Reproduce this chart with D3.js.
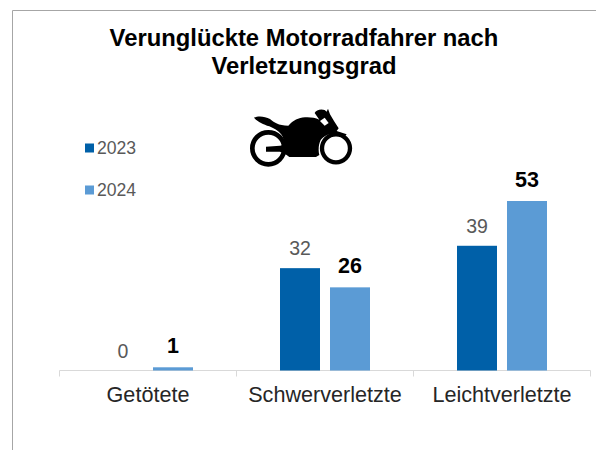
<!DOCTYPE html>
<html><head><meta charset="utf-8">
<script src="https://cdn.jsdelivr.net/npm/d3@7/dist/d3.min.js"></script>
<style>html,body{margin:0;padding:0;background:#fff}svg{display:block}text{font-family:"Liberation Sans",Arial,sans-serif}</style>
</head><body><svg id="c" width="596" height="450"></svg>
<script>
const categories = ["Getötete","Schwerverletzte","Leichtverletzte"];
const years = ["2023","2024"];
const values2023 = [0,32,39];
const values2024 = [1,26,53];
const titleLines = ["Verunglückte Motorradfahrer nach","Verletzungsgrad"];
const colors = ["#0060a8","#5b9bd5"];

const svg = d3.select("#c");
svg.append("rect").attr("width",596).attr("height",450).attr("fill","#fff");
svg.append("path").attr("d","M12.5,450V10.5H596").attr("fill","none").attr("stroke","#a6a6a6").attr("stroke-width",1);

titleLines.forEach((t,i)=>svg.append("text").attr("x",304).attr("y",46+i*28).attr("text-anchor","middle")
  .attr("font-size",23.8).attr("font-weight","bold").attr("fill","#000").text(t));

const x = d3.scaleBand().domain(categories).range([59.5,590.5]);
const xInner = d3.scaleBand().domain(years).range([43.5,133.5]).paddingInner(0.2);
const y = d3.scaleLinear().domain([0,53]).range([370.5,201]);

const axis = svg.append("g").attr("transform",`translate(0,${y(0)})`)
  .call(d3.axisBottom(x).tickSize(0).tickPadding(16).tickFormat(d=>d));
axis.select(".domain").attr("stroke","#d9d9d9").attr("d","M59.5,6V0H590.5V6");
axis.selectAll("line").remove();
categories.slice(1).forEach(c=>axis.append("line").attr("x1",x(c)).attr("x2",x(c)).attr("y2",6).attr("stroke","#d9d9d9"));
axis.selectAll("text").attr("font-size",21.6).attr("fill","#262626").attr("font-family",'"Liberation Sans",Arial,sans-serif');

const series = [values2023,values2024];
series.forEach((vals,s)=>{
  const g = svg.append("g");
  g.selectAll("rect").data(vals).join("rect")
    .attr("x",(d,i)=>x(categories[i])+xInner(years[s]))
    .attr("width",xInner.bandwidth())
    .attr("y",d=>y(d)).attr("height",d=>y(0)-y(d)).attr("fill",colors[s]);
  g.selectAll("text").data(vals).join("text")
    .attr("x",(d,i)=>x(categories[i])+xInner(years[s])+xInner.bandwidth()/2)
    .attr("y",d=>y(d)-(s?14:13)).attr("text-anchor","middle")
    .attr("font-size",s?21.5:19.5).attr("font-weight",s?"bold":"normal")
    .attr("fill",s?"#000":"#595959").text(d=>d);
});

const legendY = d3.scalePoint().domain(years).range([148,190]);
years.forEach((yr,i)=>{
  svg.append("rect").attr("x",85).attr("y",legendY(yr)-4.5).attr("width",9).attr("height",9).attr("fill",colors[i]);
  svg.append("text").attr("x",97).attr("y",legendY(yr)+6).attr("font-size",17.6).attr("fill","#595959").text(yr);
});

// motorcycle pictogram
const bike = svg.append("g").attr("transform","translate(230,95) scale(0.3333)");
bike.append("path").attr("fill","#000").attr("d",
 "M72,68 C85,62 105,64 120,72 C132,82 145,92 175,92 C190,76 205,68 225,67 C240,66 255,68 268,74 L254,54 C258,45 272,41 284,45 L290,50 L294,41 L300,58 L312,78 L326,100 L320,108 L350,118 L345,124 C310,108 285,118 272,135 C266,148 264,165 268,180 L258,186 L178,186 L170,180 L150,170 L108,170 L108,155 L150,152 C158,152 165,140 158,125 C150,110 135,102 118,94 C100,88 85,82 72,68 Z");
bike.append("circle").attr("cx",115).attr("cy",160).attr("r",48).attr("fill","none").attr("stroke","#000").attr("stroke-width",14);
bike.append("circle").attr("cx",318).attr("cy",160).attr("r",42).attr("fill","none").attr("stroke","#000").attr("stroke-width",13);
bike.append("path").attr("fill","#fff").attr("d","M270,78 L284,68 L296,84 L284,92 Z");
</script></body></html>
